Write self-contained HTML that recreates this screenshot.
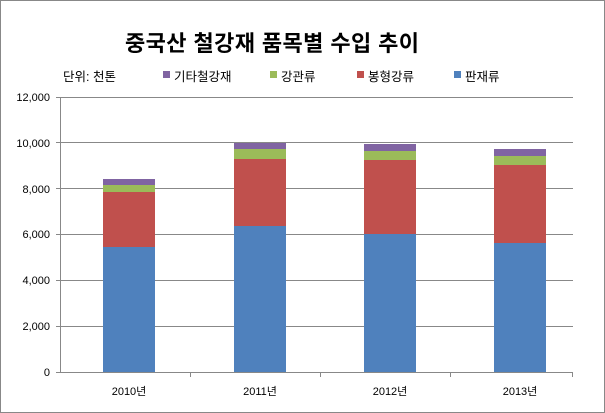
<!DOCTYPE html>
<html><head><meta charset="utf-8"><style>
body{margin:0;background:#fff}
svg{display:block}
text{font-family:"Liberation Sans","Noto Sans CJK KR","NanumGothic",sans-serif}
</style></head><body>
<svg width="605" height="413" xmlns="http://www.w3.org/2000/svg">
<rect x="0.5" y="0.5" width="604" height="412" fill="#fff" stroke="#888"/>
<text x="272" y="51" font-size="22" font-weight="bold" text-anchor="middle" fill="#000" textLength="294">중국산 철강재 품목별 수입 추이</text>
<g font-size="12.5" fill="#000">
<text x="63" y="81">단위: 천톤</text>
<rect x="163" y="71" width="7" height="7" fill="#8064a2"/><text x="174" y="81">기타철강재</text>
<rect x="270" y="71" width="7" height="7" fill="#9bbb59"/><text x="281" y="81">강관류</text>
<rect x="357" y="71" width="7" height="7" fill="#c0504d"/><text x="368" y="81">봉형강류</text>
<rect x="454" y="71" width="7" height="7" fill="#4f81bd"/><text x="465" y="81">판재류</text>
</g>
<g stroke="#888" stroke-width="1">
<line x1="56" y1="97.5" x2="573" y2="97.5"/>
<line x1="56" y1="142.5" x2="573" y2="142.5"/>
<line x1="56" y1="188.5" x2="573" y2="188.5"/>
<line x1="56" y1="234.5" x2="573" y2="234.5"/>
<line x1="56" y1="280.5" x2="573" y2="280.5"/>
<line x1="56" y1="326.5" x2="573" y2="326.5"/>
<line x1="56" y1="372.5" x2="573" y2="372.5"/>
<line x1="60.5" y1="97" x2="60.5" y2="372"/>
<line x1="190.5" y1="372" x2="190.5" y2="377"/>
<line x1="320.5" y1="372" x2="320.5" y2="377"/>
<line x1="450.5" y1="372" x2="450.5" y2="377"/>
<line x1="572.5" y1="372" x2="572.5" y2="377"/>
</g>
<g font-size="11" fill="#000" text-anchor="end">
<text x="50" y="101">12,000</text>
<text x="50" y="147">10,000</text>
<text x="50" y="193">8,000</text>
<text x="50" y="238">6,000</text>
<text x="50" y="284">4,000</text>
<text x="50" y="330">2,000</text>
<text x="50" y="376">0</text>
</g>
<g>
<rect x="103" y="179" width="52" height="6" fill="#8064a2"/>
<rect x="103" y="185" width="52" height="7" fill="#9bbb59"/>
<rect x="103" y="192" width="52" height="55" fill="#c0504d"/>
<rect x="103" y="247" width="52" height="125" fill="#4f81bd"/>
<rect x="234" y="143" width="52" height="6" fill="#8064a2"/>
<rect x="234" y="149" width="52" height="10" fill="#9bbb59"/>
<rect x="234" y="159" width="52" height="67" fill="#c0504d"/>
<rect x="234" y="226" width="52" height="146" fill="#4f81bd"/>
<rect x="364" y="144" width="52" height="7" fill="#8064a2"/>
<rect x="364" y="151" width="52" height="9" fill="#9bbb59"/>
<rect x="364" y="160" width="52" height="74" fill="#c0504d"/>
<rect x="364" y="234" width="52" height="138" fill="#4f81bd"/>
<rect x="494" y="149" width="52" height="7" fill="#8064a2"/>
<rect x="494" y="156" width="52" height="9" fill="#9bbb59"/>
<rect x="494" y="165" width="52" height="78" fill="#c0504d"/>
<rect x="494" y="243" width="52" height="129" fill="#4f81bd"/>
</g>
<g font-size="11" fill="#000" text-anchor="middle">
<text x="129" y="395">2010년</text>
<text x="260" y="395">2011년</text>
<text x="390" y="395">2012년</text>
<text x="520" y="395">2013년</text>
</g>
</svg>
</body></html>
